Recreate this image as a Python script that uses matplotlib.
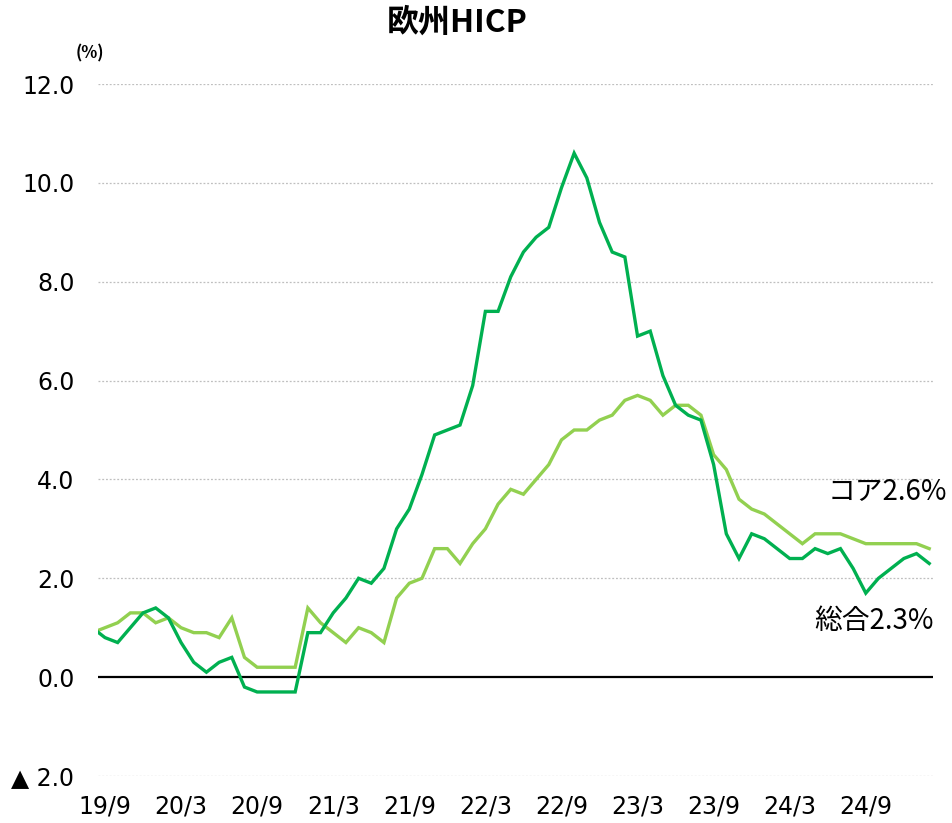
import matplotlib
matplotlib.use("Agg")
import matplotlib.pyplot as plt
import numpy as np
import pandas as pd

# Data: euro area HICP, y/y % (Aug 2019 – Feb 2025)
months = pd.date_range("2019-08-01", "2025-02-01", freq="MS")
headline = [1.0,
    0.8, 0.7, 1.0, 1.3,
    1.4, 1.2, 0.7, 0.3, 0.1, 0.3, 0.4, -0.2, -0.3, -0.3, -0.3, -0.3,
    0.9, 0.9, 1.3, 1.6, 2.0, 1.9, 2.2, 3.0, 3.4, 4.1, 4.9, 5.0,
    5.1, 5.9, 7.4, 7.4, 8.1, 8.6, 8.9, 9.1, 9.9, 10.6, 10.1, 9.2,
    8.6, 8.5, 6.9, 7.0, 6.1, 5.5, 5.3, 5.2, 4.3, 2.9, 2.4, 2.9,
    2.8, 2.6, 2.4, 2.4, 2.6, 2.5, 2.6, 2.2, 1.7, 2.0, 2.2, 2.4,
    2.5, 2.3]
core = [0.9,
    1.0, 1.1, 1.3, 1.3,
    1.1, 1.2, 1.0, 0.9, 0.9, 0.8, 1.2, 0.4, 0.2, 0.2, 0.2, 0.2,
    1.4, 1.1, 0.9, 0.7, 1.0, 0.9, 0.7, 1.6, 1.9, 2.0, 2.6, 2.6,
    2.3, 2.7, 3.0, 3.5, 3.8, 3.7, 4.0, 4.3, 4.8, 5.0, 5.0, 5.2,
    5.3, 5.6, 5.7, 5.6, 5.3, 5.5, 5.5, 5.3, 4.5, 4.2, 3.6, 3.4,
    3.3, 3.1, 2.9, 2.7, 2.9, 2.9, 2.9, 2.8, 2.7, 2.7, 2.7, 2.7,
    2.7, 2.6]
yticks = [-2, 0, 2, 4, 6, 8, 10, 12]

title = "欧州HICP"
label_core = "コア2.6%"
label_head = "総合2.3%"

c_head = "#00B050"
c_core = "#92D050"

W, H = 952, 823
fig = plt.figure(figsize=(W / 100, H / 100), dpi=100)
ax = fig.add_axes([98 / W, (H - 776) / H, (933 - 98) / W, (776 - 84) / H])

x = np.arange(len(months)) - 1  # index 0 = Sep 2019

ax.plot(x, core, color=c_core, lw=2.4, solid_joinstyle="miter", zorder=3)
ax.plot(x, headline, color=c_head, lw=2.4, solid_joinstyle="miter", zorder=4)

ax.set_xlim(-0.55, 65.3)
ax.set_ylim(-2, 12)

for yv in yticks:
    if yv == 0:
        ax.axhline(0, color="black", lw=1.6, zorder=2)
    else:
        ax.axhline(yv, color="#BFBFBF", lw=0.9, ls=(0, (1.5, 1.5)), zorder=1)

ax.set_yticks(yticks)
ax.set_yticklabels([("▲ %.1f" % abs(v)) if v < 0 else ("%.1f" % v) for v in yticks],
                   fontsize=17, family="DejaVu Sans")
tick_idx = list(range(0, 61, 6))
ax.set_xticks(tick_idx)
ax.set_xticklabels([f"{months[i + 1].year % 100}/{months[i + 1].month}" for i in tick_idx],
                   fontsize=17, family="DejaVu Sans")
ax.tick_params(axis="both", length=0, colors="black")
ax.tick_params(axis="y", pad=17)
ax.tick_params(axis="x", pad=13)
for s in ax.spines.values():
    s.set_visible(False)

cjk = ["Noto Sans CJK JP", "DejaVu Sans"]
fig.text(457 / W, 1 - 23 / H, title, ha="center", va="center", fontsize=23,
         fontweight="bold", family=cjk)
fig.text(90 / W, 1 - 53.5 / H, "(%)", ha="center", va="center", fontsize=12,
         fontweight="bold", family=cjk)
fig.text(947 / W, 1 - 491 / H, label_core, ha="right", va="center", fontsize=20, family=cjk)
fig.text(934 / W, 1 - 621 / H, label_head, ha="right", va="center", fontsize=20, family=cjk)

fig.savefig("out.png", dpi=100)
